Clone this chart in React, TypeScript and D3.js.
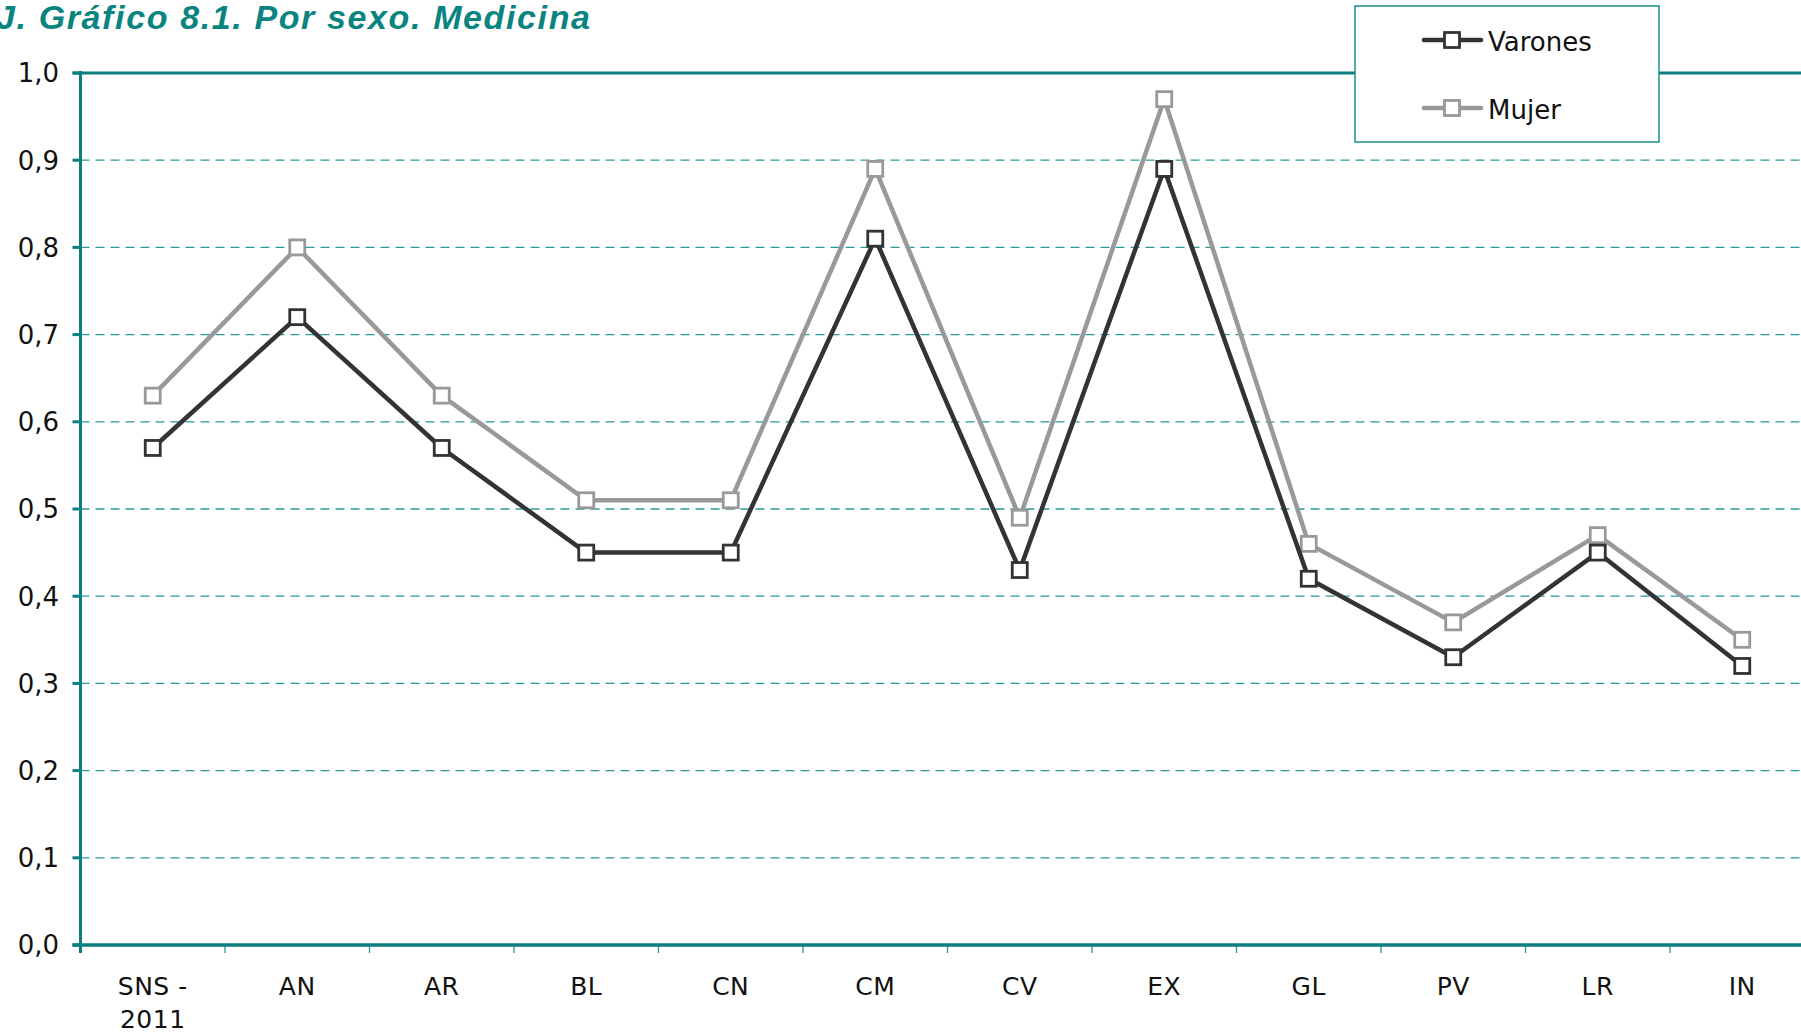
import React from "react";
import * as d3 from "d3";

const categories = ["SNS - 2011", "AN", "AR", "BL", "CN", "CM", "CV", "EX", "GL", "PV", "LR", "IN"];
const varones = [0.57, 0.72, 0.57, 0.45, 0.45, 0.81, 0.43, 0.89, 0.42, 0.33, 0.45, 0.32];
const mujer = [0.63, 0.80, 0.63, 0.51, 0.51, 0.89, 0.49, 0.97, 0.46, 0.37, 0.47, 0.35];
const yTicks = [0, 0.1, 0.2, 0.3, 0.4, 0.5, 0.6, 0.7, 0.8, 0.9, 1.0];
const title = "J. Gráfico 8.1. Por sexo. Medicina";

const W = 1801;
const H = 1035;
const left = 80.5;
const right = left + 12 * 144.5;
const top = 73;
const bottom = 945;

const TEAL = "#0b7f7f";
const GRID = "#2a9a9a";
const FONT = "'DejaVu Sans', Verdana, sans-serif";

export default function App() {
  const x = d3.scaleBand<string>().domain(categories).range([left, right]);
  const y = d3.scaleLinear().domain([0, 1]).range([bottom, top]);
  const cx = (c: string) => (x(c) as number) + x.bandwidth() / 2;
  const line = d3
    .line<number>()
    .x((_, i) => cx(categories[i]))
    .y((d) => y(d));

  const series = [
    { name: "Varones", data: varones, color: "#333333" },
    { name: "Mujer", data: mujer, color: "#999999" },
  ];
  const ms = 15;

  return (
    <svg
      width={W}
      height={H}
      style={{ position: "absolute", left: 0, top: 0, background: "#fff" }}
    >
      <rect x={0} y={0} width={W} height={H} fill="#fff" />
      <text
        x={-4}
        y={29}
        fontFamily="'Liberation Sans', Arial, sans-serif"
        fontWeight="bold"
        fontStyle="italic"
        fontSize={34}
        fill="#0a8480"
        textLength={594}
        lengthAdjust="spacing"
      >
        {title}
      </text>

      {/* gridlines */}
      {yTicks
        .filter((t) => t > 0 && t < 1)
        .map((t) => (
          <line
            key={"g" + t}
            x1={left}
            x2={right}
            y1={y(t)}
            y2={y(t)}
            stroke={GRID}
            strokeWidth={1.3}
            strokeDasharray="9,6"
          />
        ))}
      {/* top line */}
      <line x1={left - 8} x2={right} y1={y(1)} y2={y(1)} stroke={TEAL} strokeWidth={3} />

      {/* y ticks + labels */}
      {yTicks.map((t) => (
        <g key={"t" + t}>
          <line x1={left - 8} x2={left} y1={y(t)} y2={y(t)} stroke={TEAL} strokeWidth={3} />
          <text
            x={59}
            y={y(t)}
            dy="0.36em"
            textAnchor="end"
            fontFamily={FONT}
            fontSize={26}
            fill="#111"
          >
            {t.toFixed(1).replace(".", ",")}
          </text>
        </g>
      ))}

      {/* x ticks */}
      {categories.map((c, i) => (
        <line
          key={"xt" + c}
          x1={(x(c) as number)}
          x2={(x(c) as number)}
          y1={bottom}
          y2={bottom + 8}
          stroke={i === 0 ? TEAL : GRID}
          strokeWidth={i === 0 ? 3 : 1.3}
        />
      ))}

      {/* axes */}
      <line x1={left} x2={left} y1={top - 2} y2={bottom + 1} stroke={TEAL} strokeWidth={3} />
      <line x1={left - 8} x2={right} y1={bottom} y2={bottom} stroke={TEAL} strokeWidth={3.5} />

      {/* x labels */}
      {categories.map((c) => {
        const parts = c === "SNS - 2011" ? ["SNS -", "2011"] : [c];
        return (
          <text
            key={"xl" + c}
            x={cx(c)}
            y={995}
            textAnchor="middle"
            fontFamily={FONT}
            fontSize={25}
            letterSpacing={0.5}
            fill="#111"
          >
            {parts.map((p, k) => (
              <tspan key={k} x={cx(c)} dy={k === 0 ? 0 : 33}>
                {p}
              </tspan>
            ))}
          </text>
        );
      })}

      {/* series */}
      {series
        .slice()
        .reverse()
        .map((s) => (
          <g key={s.name}>
            <path
              d={line(s.data) as string}
              fill="none"
              stroke={s.color}
              strokeWidth={4.5}
              strokeLinejoin="round"
            />
            {s.data.map((v, i) => (
              <rect
                key={i}
                x={cx(categories[i]) - ms / 2}
                y={y(v) - ms / 2}
                width={ms}
                height={ms}
                fill="#fff"
                stroke={s.color}
                strokeWidth={2.8}
              />
            ))}
          </g>
        ))}

      {/* legend */}
      <rect x={1355} y={6} width={304} height={136} fill="#fff" stroke="#1a8f8f" strokeWidth={1.5} />
      {series.map((s, i) => {
        const ly = 40 + i * 68;
        return (
          <g key={"lg" + s.name}>
            <line
              x1={1424}
              x2={1481}
              y1={ly}
              y2={ly}
              stroke={s.color}
              strokeWidth={4.5}
              strokeLinecap="round"
            />
            <rect
              x={1452 - ms / 2}
              y={ly - ms / 2}
              width={ms}
              height={ms}
              fill="#fff"
              stroke={s.color}
              strokeWidth={2.8}
            />
            <text x={1488} y={ly + 10.5} fontFamily={FONT} fontSize={26} fill="#111">
              {s.name}
            </text>
          </g>
        );
      })}
    </svg>
  );
}
